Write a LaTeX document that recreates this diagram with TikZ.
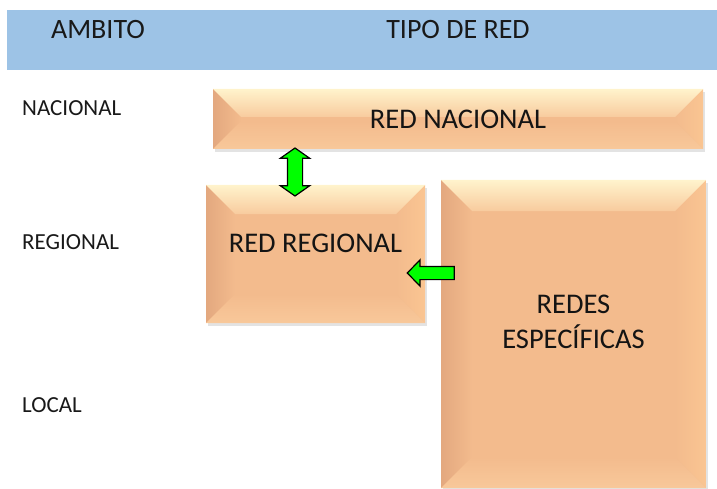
\documentclass[tikz,border=0pt]{standalone}
\usepackage{fontspec}
\setmainfont{Carlito}
\usetikzlibrary{calc,
	positioning,
	shapes.arrows,
	shadows}
\definecolor{hdrblue}{HTML}{9DC3E6}
\definecolor{face}{HTML}{F3BB8D}
\definecolor{bevtop}{HTML}{FFF3CC}
\definecolor{bevtopb}{HTML}{F8CB9E}
\definecolor{bevleft}{HTML}{E3A87F}
\definecolor{bevright}{HTML}{FAC592}
\definecolor{bevbot}{HTML}{F8C89A}
\definecolor{linkgreen}{HTML}{00FF00}
\tikzstyle{hdr}=[fill=hdrblue, inner sep=0, anchor=north west]
\tikzstyle{hdrtext}=[font=\fontsize{28}{32}\selectfont, text=black!90, inner sep=0]
\tikzstyle{levtext}=[font=\fontsize{23}{26}\selectfont, text=black!90, anchor=west, inner sep=0]
\tikzstyle{boxtext}=[font=\fontsize{28.5}{35}\selectfont, align=center, text=black!92, inner sep=0]
\tikzstyle{link}=[draw=black, fill=linkgreen, line width=1.2pt, inner xsep=0]
\tikzset{netbox/.style={fill=face, inner sep=0,
		drop shadow={shadow xshift=2pt, shadow yshift=-3pt, opacity=.22},
		path picture={
			\coordinate (nw) at (path picture bounding box.north west);
			\coordinate (ne) at (path picture bounding box.north east);
			\coordinate (sw) at (path picture bounding box.south west);
			\coordinate (se) at (path picture bounding box.south east);
			\shade[left color=bevleft, right color=face] (nw) -- ++(#1,-#1) -- ($(sw)+(#1,#1)$) -- (sw) -- cycle;
			\shade[right color=bevright, left color=face] (ne) -- ++(-#1,-#1) -- ($(se)+(-#1,#1)$) -- (se) -- cycle;
			\shade[bottom color=bevbot, top color=face] (sw) -- ++(#1,#1) -- ($(se)+(-#1,#1)$) -- (se) -- cycle;
			\shade[top color=bevtop, bottom color=bevtopb] (nw) -- ++(#1,-#1) -- ($(ne)+(-#1,-#1)$) -- (ne) -- cycle;
		}}}
\begin{document}
\begin{tikzpicture}[x=1pt, y=1pt]
	\useasboundingbox (0,0) rectangle (717,-489);
	% header
	\node[hdr, minimum width=710, minimum height=60] (band) at (7,-10) {};
	\node[hdrtext] (ambito) at (98,-30) {AMBITO};
	\node[hdrtext] (tipo) at (458,-30) {TIPO DE RED};
	% levels
	\node[levtext] (lnac) at (22,-108) {NACIONAL};
	\node[levtext] (lreg) at (22,-242) {REGIONAL};
	\node[levtext] (lloc) at (22,-405) {LOCAL};
	% networks
	\node[netbox=28, minimum width=490, minimum height=60] (nac) at (458,-119) {};
	\node[netbox=29, minimum width=219, minimum height=138] (reg) at (315.5,-254) {};
	\node[netbox=31, minimum width=265, minimum height=308] (esp) at (573.5,-334) {};
	\node[boxtext] (nactxt) at (nac) {RED NACIONAL};
	\node[boxtext] (regtxt) at ($(reg.center)+(0,11)$) {RED REGIONAL};
	\node[boxtext] (esptxt) at ($(esp.center)+(0,12)$) {REDES\\ESPECÍFICAS};
	% links
	\node[link, double arrow, inner ysep=7, double arrow head extend=7, double arrow tip angle=110,
		minimum height=48, minimum width=28, rotate=90] (updown) at (295,-172) {};
	\node[link, single arrow, inner ysep=6, single arrow head extend=6.5, single arrow tip angle=92,
		minimum height=47, minimum width=25, shape border rotate=180] (toreg) at (434,-273) {};
\end{tikzpicture}
\end{document}
